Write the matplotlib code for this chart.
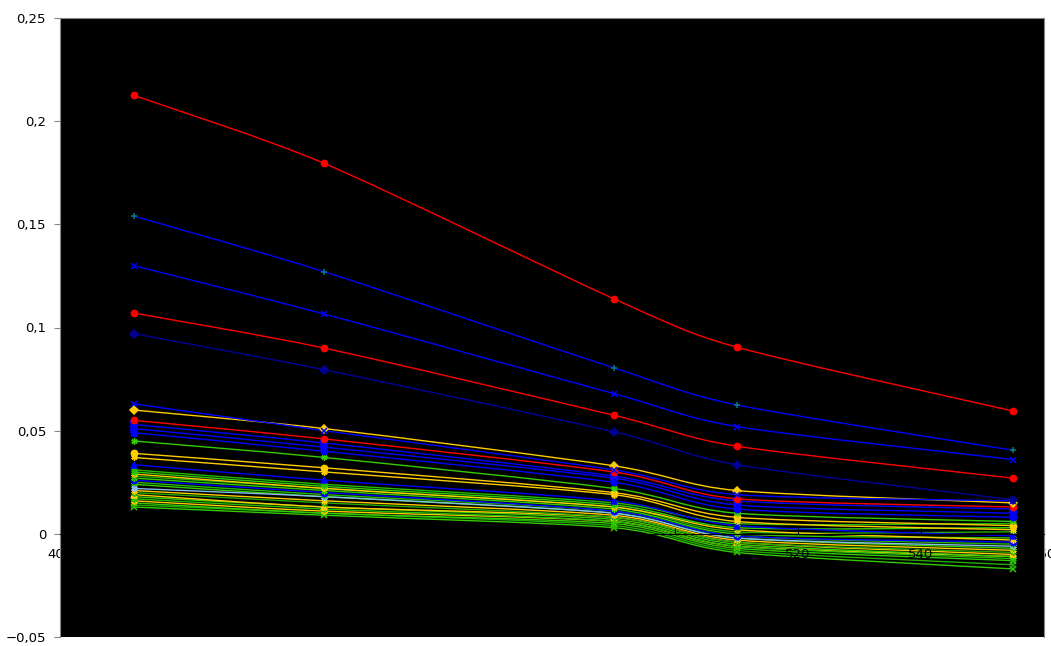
import numpy as np
import matplotlib
matplotlib.use("Agg")
import matplotlib.pyplot as plt
from matplotlib.path import Path
from matplotlib.patches import PathPatch
from matplotlib.ticker import FuncFormatter, MultipleLocator

# wavelengths (nm)
wl = [412, 443, 490, 510, 555]

# upper, well separated series
s_red_top = [0.2125, 0.1795, 0.114, 0.0905, 0.0595]
s_teal_plus = [0.154, 0.127, 0.0805, 0.0625, 0.0405]
s_blue_x = [0.130, 0.1065, 0.068, 0.052, 0.036]
s_red_mid = [0.107, 0.090, 0.0575, 0.0425, 0.027]
s_navy_diam = [0.097, 0.0795, 0.0495, 0.0335, 0.0165]

# dense bundle, top to bottom
bundle = [
    ("#0000FF", "x",        [0.063, 0.050, 0.031, 0.019, 0.016]),
    ("#FFCC00", "D",        [0.060, 0.051, 0.033, 0.021, 0.015]),
    ("#FF0000", "o",        [0.055, 0.046, 0.030, 0.017, 0.013]),
    ("#0000FF", "s",        [0.053, 0.044, 0.028, 0.016, 0.012]),
    ("#0000FF", "s",        [0.051, 0.042, 0.027, 0.014, 0.010]),
    ("#0000FF", "o",        [0.049, 0.040, 0.025, 0.012, 0.008]),
    ("#33CC00", (6, 2, 0),  [0.045, 0.037, 0.022, 0.010, 0.006]),
    ("#FFCC00", "o",        [0.039, 0.032, 0.020, 0.008, 0.004]),
    ("#FFCC00", (6, 2, 0),  [0.037, 0.030, 0.019, 0.006, 0.002]),
    ("#0000FF", "^",        [0.0335, 0.026, 0.016, 0.004, -0.001]),
    ("#22BB00", (6, 2, 0),  [0.031, 0.024, 0.015, 0.005, 0.005]),
    ("#33CC00", (6, 2, 0),  [0.030, 0.023, 0.014, 0.003, 0.003]),
    ("#FFCC00", (6, 2, 0),  [0.029, 0.022, 0.013, 0.002, -0.003]),
    ("#22AA00", (6, 2, 0),  [0.028, 0.022, 0.013, 0.001, 0.001]),
    ("#33CC00", (6, 2, 0),  [0.027, 0.021, 0.012, 0.000, -0.002]),
    ("#0000FF", "o",        [0.026, 0.020, 0.011, -0.001, -0.004]),
    ("#22BB00", (6, 2, 0),  [0.025, 0.019, 0.011, -0.001, -0.005]),
    ("#88BBEE", (6, 2, 0),  [0.022, 0.018, 0.010, -0.002, -0.006]),
    ("#33CC00", (6, 2, 0),  [0.024, 0.018, 0.010, -0.002, -0.007]),
    ("#FFCC00", (6, 2, 0),  [0.021, 0.016, 0.009, -0.003, -0.008]),
    ("#22AA00", (6, 2, 0),  [0.020, 0.015, 0.008, -0.004, -0.009]),
    ("#FFCC00", "^",        [0.019, 0.013, 0.008, -0.004, -0.010]),
    ("#33CC00", (6, 2, 0),  [0.018, 0.013, 0.007, -0.005, -0.011]),
    ("#22BB00", (6, 2, 0),  [0.017, 0.012, 0.006, -0.006, -0.012]),
    ("#FFCC00", (6, 2, 0),  [0.016, 0.011, 0.006, -0.006, -0.011]),
    ("#33CC00", "x",        [0.015, 0.010, 0.005, -0.007, -0.013]),
    ("#22AA00", "x",        [0.014, 0.010, 0.004, -0.008, -0.015]),
    ("#33CC00", "x",        [0.013, 0.009, 0.003, -0.009, -0.017]),
]

top_series = [
    ("#0000FF", "#008080", "+", s_teal_plus),
    ("#0000FF", "#0000FF", "x", s_blue_x),
    ("#FF0000", "#FF0000", "o", s_red_mid),
    ("#000099", "#000099", "D", s_navy_diam),
    ("#FF0000", "#FF0000", "o", s_red_top),
]


def smooth_path(xs, ys, t=0.13):
    # Excel-like smoothed line: cardinal spline segments as cubic beziers
    pts = np.column_stack([xs, ys]).astype(float)
    n = len(pts)
    verts = [pts[0]]
    codes = [Path.MOVETO]
    for i in range(n - 1):
        p0 = pts[max(i - 1, 0)]
        p1 = pts[i]
        p2 = pts[i + 1]
        p3 = pts[min(i + 2, n - 1)]
        c1 = p1 + (p2 - p0) * t
        c2 = p2 - (p3 - p1) * t
        verts += [c1, c2, p2]
        codes += [Path.CURVE4] * 3
    return Path(verts, codes)


def draw(ax, xs, ys, lc, mc, mk, z):
    ax.add_patch(PathPatch(smooth_path(xs, ys), fill=False, edgecolor=lc,
                           lw=1.0, zorder=z))
    ax.plot(xs, ys, ls="none", marker=mk, color=mc, ms=4.5, mew=1.1,
            zorder=z + 0.01)


fig = plt.figure(figsize=(10.51, 6.46), dpi=100)
ax = fig.add_axes([60 / 1051, 9 / 646, 984 / 1051, 619 / 646])
ax.set_facecolor("black")

for k, (c, mk, vals) in enumerate(reversed(bundle)):
    draw(ax, wl, vals, c, c, mk, 1.0 + k * 0.001)
for lc, mc, mk, vals in top_series:
    draw(ax, wl, vals, lc, mc, mk, 1.5)

ax.set_xlim(400, 560)
ax.set_ylim(-0.05, 0.25)
ax.xaxis.set_major_locator(MultipleLocator(20))
ax.yaxis.set_major_locator(MultipleLocator(0.05))


def comma(v, pos):
    s = f"{v:.2f}".rstrip("0").rstrip(".")
    if s in ("-0", "0"):
        return "0"
    return s.replace(".", ",").replace("-", "\u2212")


ax.yaxis.set_major_formatter(FuncFormatter(comma))
ax.xaxis.set_major_formatter(FuncFormatter(lambda v, p: f"{v:.0f}"))

ax.spines["bottom"].set_position(("data", 0))
ax.spines["bottom"].set_color("black")
ax.spines["top"].set_color("#888888")
ax.spines["left"].set_color("#888888")
ax.spines["right"].set_color("#888888")
ax.tick_params(axis="y", direction="out", length=4, color="#888888",
               labelsize=9.5, labelcolor="black", pad=6)
ax.tick_params(axis="x", direction="in", length=4, color="black",
               labelsize=9.5, labelcolor="black", pad=10)

fig.savefig("out.png", dpi=100, facecolor="white")
